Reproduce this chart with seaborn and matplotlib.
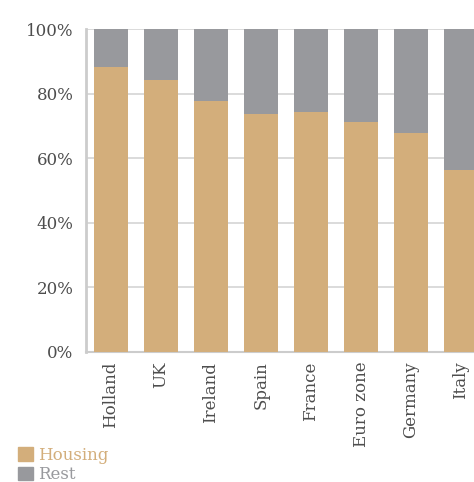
import numpy as np
import pandas as pd
import matplotlib
matplotlib.use("Agg")
import matplotlib.pyplot as plt
import seaborn as sns
from matplotlib.patches import Patch

countries = ["Holland", "UK", "Ireland", "Spain", "France", "Euro zone", "Germany", "Italy"]
housing = [88.2, 84.2, 77.7, 73.7, 74.3, 71.2, 67.8, 56.3]
rest = [11.8, 15.8, 22.3, 26.3, 25.7, 28.8, 32.2, 43.7]
yticks = [0, 20, 40, 60, 80, 100]
ytick_labels = ["0%", "20%", "40%", "60%", "80%", "100%"]

tan = "#D3AE7B"
grey = "#98999D"
text_col = "#4d4d4d"

df = pd.DataFrame({"country": countries, "housing": housing, "rest": rest})
df["total"] = df["housing"] + df["rest"]

sns.set_style("white")
plt.rcParams["font.family"] = ["DejaVu Serif"]

fig = plt.figure(figsize=(4.74, 4.82), dpi=100)
ax = fig.add_axes([86 / 474, 130 / 482, 400 / 474, 323 / 482])

# grey bar for the whole, tan bar on top for housing
sns.barplot(data=df, x="country", y="total", color=grey, width=0.68,
            saturation=1, linewidth=0, ax=ax, zorder=2)
sns.barplot(data=df, x="country", y="housing", color=tan, width=0.68,
            saturation=1, linewidth=0, ax=ax, zorder=3)

ax.set_xlim(-0.5, 7.5)
ax.set_ylim(0, 100)
ax.set_xlabel("")
ax.set_ylabel("")
ax.set_yticks(yticks)
ax.set_yticklabels(ytick_labels, fontsize=12, color=text_col)
ax.yaxis.grid(True, color="#d4d4d4", lw=1.2, zorder=0)
ax.set_axisbelow(True)

ax.set_xticks(range(len(countries)))
ax.set_xticklabels(countries, rotation=90, fontsize=12, color=text_col)
ax.set_xticks(np.arange(-0.5, 8, 1), minor=True)
ax.tick_params(axis="x", which="major", length=0, pad=7)
ax.tick_params(axis="x", which="minor", length=6, color="#cccccc", width=1.2)
ax.tick_params(axis="y", length=4, color="#d4d4d4", pad=5)

for sp in ["top", "right"]:
    ax.spines[sp].set_visible(False)
ax.spines["left"].set_color("#cccccc")
ax.spines["left"].set_linewidth(2)
ax.spines["bottom"].set_color("#cccccc")
ax.spines["bottom"].set_linewidth(1.5)

handles = [Patch(color=tan, label="Housing"), Patch(color=grey, label="Rest")]
leg = fig.legend(handles=handles, loc="upper left", bbox_to_anchor=(11 / 474, 1 - 440 / 482),
                 frameon=False, fontsize=12, handlelength=0.9, handleheight=0.9,
                 handletextpad=0.3, labelspacing=0.15, borderaxespad=0)
leg.get_texts()[0].set_color(tan)
leg.get_texts()[1].set_color(grey)

fig.savefig("out.png", dpi=100)
